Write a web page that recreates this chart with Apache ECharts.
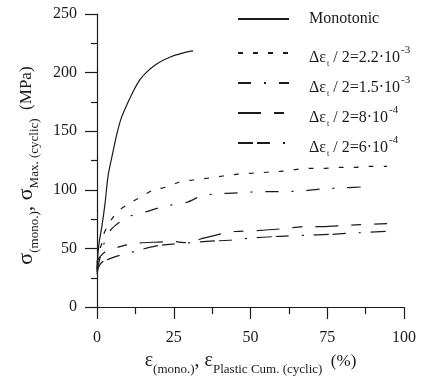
<!DOCTYPE html>
<html>
<head>
<meta charset="utf-8">
<script src="https://cdn.jsdelivr.net/npm/echarts@6/dist/echarts.min.js"></script>
<style>
  html, body { margin: 0; padding: 0; background: #ffffff; }
  #chart { width: 421px; height: 381px; }
</style>
</head>
<body>
<div id="chart"></div>
<script>
// ---- Data (strain %, stress MPa) ----
var monoX  = [0, 0.3, 0.7, 1.6, 2.6, 3.6, 5.0, 6.5, 8.0, 9.8, 12, 14, 16, 18.2, 20.5, 22.8, 25, 27, 29, 31.3];
var monoY  = [33, 45, 55, 69, 88, 112, 130, 148, 162, 173, 185, 194, 200, 205, 209, 212, 214.5, 216, 217.5, 218.5];

var c22X = [0, 0.8, 1.6, 2.0, 3.6, 6.5, 10.1, 14, 17.9, 22.8, 27, 31.3, 36.2, 41, 45.9, 50.8, 55.4, 60.3, 65.1, 70, 74.3, 79.2, 84, 88.9, 94.5];
var c22Y = [38, 48, 55, 61, 70, 81, 87.7, 93.5, 99.3, 102.6, 106.8, 108.4, 110, 111.8, 113.4, 114.2, 115, 115.9, 117.5, 118.4, 118.4, 119.2, 119.2, 120, 120];

var c15X = [0, 1, 2, 3, 4.2, 5.9, 10.1, 15.6, 22, 29.3, 34.2, 41, 47.6, 54, 60.6, 67.8, 74.3, 80.8, 87.3];
var c15Y = [32, 42, 52, 59, 65, 69.5, 77, 81, 86, 89.4, 95, 96.9, 97.7, 98.5, 98.5, 99.3, 101, 101.8, 102.6];

var c08X = [0, 0.3, 1, 2.6, 4.9, 8.1, 13, 19.9, 24.8, 29, 35, 41, 45, 53, 61.2, 67.8, 73.5, 79.8, 85.7, 94.5];
var c08Y = [30, 40, 43, 47, 49.5, 52, 54.6, 55.5, 56, 55, 59, 62.9, 64.5, 65.4, 67, 68.7, 68.7, 69.5, 70.4, 71.2];

var c06X = [0, 0.4, 1, 2, 4.9, 8.1, 13, 18.9, 24.8, 31, 37, 43, 49.8, 54, 59.6, 67.8, 75.9, 81.4, 87.3, 94.8];
var c06Y = [28, 33, 36.4, 39, 42, 44.7, 48, 52, 53.8, 55, 56.3, 57, 58.8, 59.6, 60.4, 61.3, 62, 62.9, 63.7, 64.6];

var seriesNames = ['Monotonic', 'd22', 'd15', 'd08', 'd06'];
var legendMantissa = { d22: '2.2·10', d15: '1.5·10', d08: '8·10', d06: '6·10' };
var legendExponent = { d22: '-3', d15: '-3', d08: '-4', d06: '-4' };

var xTicks = { min: 0, max: 100, interval: 25 };
var yTicks = { min: 0, max: 250, interval: 50 };

function pairs(xs, ys) { return xs.map(function (x, i) { return [x, ys[i]]; }); }

var SERIF = '"Liberation Serif", "DejaVu Serif", serif';
var INK = '#1a1a1a';

function lineSeries(name, xs, ys, dash) {
  return {
    name: name, type: 'line', data: pairs(xs, ys),
    showSymbol: false, symbol: 'none', smooth: 0.25,
    lineStyle: { color: INK, width: 1.2, type: dash },
    itemStyle: { color: INK },
    emphasis: { disabled: true }
  };
}

var chart = echarts.init(document.getElementById('chart'), null, { renderer: 'canvas' });

var legendRich = {
  m: { fontFamily: SERIF, fontSize: 16, lineHeight: 16, color: INK, padding: [5, 0, 0, 0], verticalAlign: 'top' },
  s: { fontFamily: SERIF, fontSize: 8, lineHeight: 8, color: INK, padding: [15, 0, 0, 1], verticalAlign: 'top' },
  p: { fontFamily: SERIF, fontSize: 11, lineHeight: 11, color: INK, padding: [0, 0, 0, 1], verticalAlign: 'top' },
  lead: { width: 15 }
};

var legendCommon = {
  orient: 'vertical', left: 237, padding: 0,
  itemWidth: 51, itemHeight: 14,
  itemStyle: { opacity: 0, borderWidth: 0 },
  selectedMode: false
};

var option = {
  backgroundColor: '#ffffff',
  animation: false,
  grid: { left: 97, right: 17, top: 14, bottom: 65, containLabel: false },
  legend: [
    Object.assign({}, legendCommon, {
      data: ['Monotonic'], top: 11,
      formatter: function (n) { return '{lead|}{t|' + n + '}'; },
      textStyle: { rich: { lead: { width: 15 }, t: { fontFamily: SERIF, fontSize: 16, lineHeight: 16, color: INK } } }
    }),
    Object.assign({}, legendCommon, {
      data: ['d22', 'd15', 'd08', 'd06'], top: 45, itemGap: 7,
      formatter: function (n) {
        return '{lead|}{m|Δε}{s|t}{m| / 2=' + legendMantissa[n] + '}{p|' + legendExponent[n] + '}';
      },
      textStyle: { rich: legendRich }
    })
  ],
  xAxis: {
    type: 'value', min: xTicks.min, max: xTicks.max, interval: xTicks.interval,
    axisLine: { show: true, onZero: false, lineStyle: { color: INK, width: 1.2 } },
    axisTick: { show: true, length: 12, lineStyle: { color: INK, width: 1.2 } },
    minorTick: { show: true, splitNumber: 2, length: 7, lineStyle: { color: INK, width: 1.2 } },
    splitLine: { show: false },
    axisLabel: { fontFamily: SERIF, fontSize: 16, color: INK, margin: 23 },
    name: '{e|ε}{sb|(mono.)}{e|, ε}{sb|Plastic Cum. (cyclic)}{pc|  (%)}',
    nameLocation: 'middle', nameGap: 35,
    nameTextStyle: {
      rich: {
        e: { fontFamily: SERIF, fontSize: 20, lineHeight: 20, color: INK, verticalAlign: 'top' },
        sb: { fontFamily: SERIF, fontSize: 13, lineHeight: 13, color: INK, padding: [12, 0, 0, 0], verticalAlign: 'top' },
        pc: { fontFamily: SERIF, fontSize: 17, lineHeight: 17, color: INK, padding: [2, 0, 0, 0], verticalAlign: 'top' }
      }
    }
  },
  yAxis: {
    type: 'value', min: yTicks.min, max: yTicks.max, interval: yTicks.interval,
    axisLine: { show: true, onZero: false, lineStyle: { color: INK, width: 1.2 } },
    axisTick: { show: true, length: 12, lineStyle: { color: INK, width: 1.2 } },
    minorTick: { show: true, splitNumber: 2, length: 6, lineStyle: { color: INK, width: 1.2 } },
    splitLine: { show: false },
    axisLabel: { fontFamily: SERIF, fontSize: 16, color: INK, margin: 20 },
    name: '{g|σ}{sb|(mono.)}{g|, σ}{sb|Max. (cyclic)}{mp|  (MPa)}',
    nameLocation: 'middle', nameRotate: 90, nameGap: 60,
    nameTextStyle: {
      padding: [0, 10, 0, 0],
      rich: {
        g: { fontFamily: SERIF, fontSize: 22, lineHeight: 22, color: INK, verticalAlign: 'top' },
        sb: { fontFamily: SERIF, fontSize: 13, lineHeight: 13, color: INK, padding: [13, 0, 0, 0], verticalAlign: 'top' },
        mp: { fontFamily: SERIF, fontSize: 17, lineHeight: 17, color: INK, padding: [3, 0, 0, 0], verticalAlign: 'top' }
      }
    }
  },
  series: [
    lineSeries('Monotonic', monoX, monoY, 'solid'),
    lineSeries('d22', c22X, c22Y, [5, 10]),
    lineSeries('d15', c15X, c15Y, [13, 13, 2, 13]),
    lineSeries('d08', c08X, c08Y, [23, 13, 10, 13]),
    lineSeries('d06', c06X, c06Y, [15, 4, 13, 13, 2, 10])
  ]
};
chart.setOption(option);
</script>
</body>
</html>
